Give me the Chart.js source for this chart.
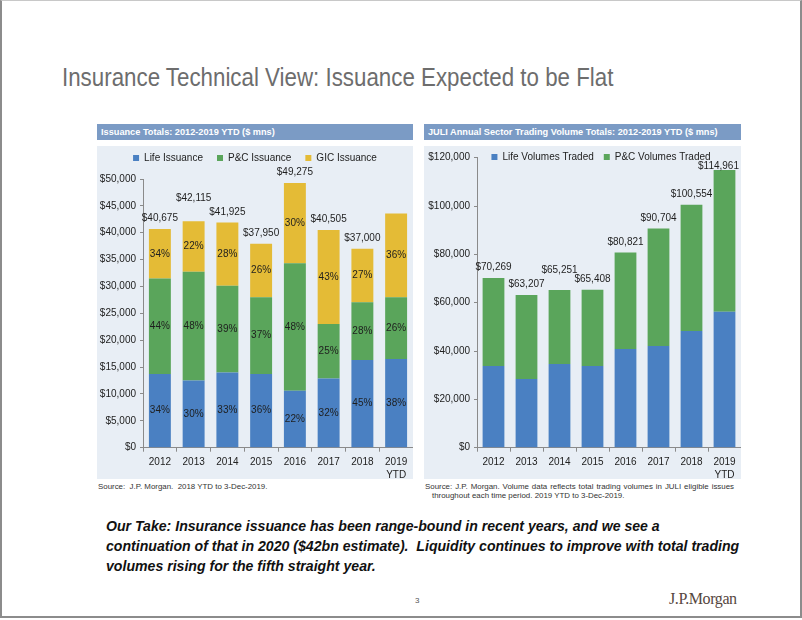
<!DOCTYPE html>
<html>
<head>
<meta charset="utf-8">
<script src="https://cdn.jsdelivr.net/npm/chart.js@4.4.1/dist/chart.umd.min.js"></script>
<style>
  html, body { margin: 0; padding: 0; background: #fff; }
  #slide { position: relative; width: 802px; height: 620px; overflow: hidden; font-family: 'Liberation Sans', Arial, sans-serif; }
  .frame { position: absolute; left: 0; top: 0; width: 798px; height: 615px; border-left: 2px solid #8c8c8c; border-right: 2px solid #8c8c8c; border-bottom: 2px solid #8c8c8c; border-top: 1px solid #c8c8c8; }
  .title { position: absolute; left: 62px; top: 62px; font-size: 25px; line-height: 30px; color: #6d6d6d; white-space: nowrap; transform: scaleX(0.893); transform-origin: 0 0; }
  .hdr { position: absolute; top: 124px; height: 16px; background: #7b9bc5; color: #fff; font-weight: bold; font-size: 9.2px; line-height: 16px; padding-left: 4px; white-space: nowrap; box-sizing: border-box; }
  canvas { position: absolute; top: 146px; background: #e8eef5; }
  .src { position: absolute; font-size: 7.9px; line-height: 9px; color: #333; white-space: nowrap; }
  .take { position: absolute; left: 106px; top: 516px; font-weight: bold; font-style: italic; font-size: 15.5px; line-height: 20px; color: #111; white-space: nowrap; transform: scaleX(0.91); transform-origin: 0 0; }
  .pg { position: absolute; left: 415px; top: 596px; font-size: 8px; color: #555; }
  .logo { position: absolute; left: 669px; top: 590px; font-family: 'Liberation Serif', 'DejaVu Serif', serif; font-size: 16px; color: #56463e; letter-spacing: -0.4px; }
</style>
</head>
<body>
<div id="slide">
  <div class="frame"></div>
  <div class="title">Insurance Technical View: Issuance Expected to be Flat</div>

  <div class="hdr" style="left:97px; width:316px;">Issuance Totals: 2012-2019 YTD ($ mns)</div>
  <div class="hdr" style="left:424px; width:317px;">JULI Annual Sector Trading Volume Totals: 2012-2019 YTD ($ mns)</div>

  <canvas id="c1" width="316" height="333" style="left:97px;"></canvas>
  <canvas id="c2" width="317" height="333" style="left:424px;"></canvas>

  <div class="src" style="left:98px; top:482px;">Source:&nbsp; J.P. Morgan.&nbsp; 2018 YTD to 3-Dec-2019.</div>
  <div class="src" style="left:425px; top:482px; width:309px; text-align:justify; text-align-last:justify; white-space:normal;">Source: J.P. Morgan. Volume data reflects total trading volumes in JULI eligible issues</div>
  <div class="src" style="left:432px; top:491px;">throughout each time period. 2019 YTD to 3-Dec-2019.</div>

  <div class="take">Our Take: Insurance issuance has been range-bound in recent years, and we see a<br>continuation of that in 2020 ($42bn estimate).&nbsp; Liquidity continues to improve with total trading<br>volumes rising for the fifth straight year.</div>
  <div class="pg">3</div>
  <div class="logo">J.P.Morgan</div>
</div>

<script>
// ---------------- Data ----------------
const categories = ['2012', '2013', '2014', '2015', '2016', '2017', '2018', ['2019', 'YTD']];

// Left chart: Issuance ($ mns)
const lifeIssuance = [13700, 12500, 14000, 13700, 10600, 12900, 16300, 16500];
const pcIssuance   = [17800, 20250, 16150, 14300, 23700, 10100, 10750, 11500];
const gicIssuance  = [9175, 9365, 11775, 9950, 14975, 17505, 9950, 15600];
const lifePct = ['34%', '30%', '33%', '36%', '22%', '32%', '45%', '38%'];
const pcPct   = ['44%', '48%', '39%', '37%', '48%', '25%', '28%', '26%'];
const gicPct  = ['34%', '22%', '28%', '26%', '30%', '43%', '27%', '36%'];
const issuanceTotals = ['$40,675', '$42,115', '$41,925', '$37,950', '$49,275', '$40,505', '$37,000', ''];

// Right chart: Trading volumes ($ mns)
const lifeVolumes = [33800, 28400, 34600, 33800, 40800, 42100, 48300, 56300];
const pcVolumes   = [36469, 34807, 30651, 31608, 40021, 48604, 52254, 58661];
const volumeTotals = ['$70,269', '$63,207', '$65,251', '$65,408', '$80,821', '$90,704', '$100,554', '$114,961'];

// ---------------- Styling ----------------
const BLUE = '#4a80c2';
const GREEN = '#5aa55b';
const GOLD = '#e4bb36';
const AXIS = '#8a8a8a';

Chart.defaults.font.family = "'Liberation Sans', Arial, sans-serif";
Chart.defaults.font.size = 10;
Chart.defaults.color = '#222';

function money(v) { return '$' + Number(v).toLocaleString('en-US'); }

function barLabels(cfg) {
  return {
    id: 'barLabels',
    afterDatasetsDraw(chart) {
      const ctx = chart.ctx;
      ctx.save();
      ctx.font = "10px 'Liberation Sans', Arial, sans-serif";
      ctx.fillStyle = '#1e1e1e';
      ctx.textAlign = 'center';
      ctx.textBaseline = 'middle';
      (cfg.inner || []).forEach((labels, di) => {
        if (!labels) return;
        chart.getDatasetMeta(di).data.forEach((bar, i) => {
          const p = bar.getProps(['x', 'y', 'base'], true);
          if (labels[i]) ctx.fillText(labels[i], p.x, (p.y + p.base) / 2);
        });
      });
      if (cfg.totals) {
        const meta = chart.getDatasetMeta(chart.data.datasets.length - 1);
        meta.data.forEach((bar, i) => {
          const p = bar.getProps(['x', 'y'], true);
          const lift = (cfg.lift && cfg.lift[i]) || 0;
          const dx = (cfg.dx && cfg.dx[i]) || 0;
          if (cfg.totals[i]) ctx.fillText(cfg.totals[i], p.x + dx, p.y - cfg.gap - lift);
        });
      }
      ctx.restore();
    }
  };
}

// Fix the legend's layout height, and let it draw unclipped with a small offset.
function legendFix(h, dy, shift) {
  return {
    id: 'legendFix',
    beforeLayout(chart) {
      const lg = chart.legend;
      if (lg && !lg._fixed) {
        const f = lg.fit;
        lg.fit = function () {
          f.call(this);
          this.height = h;
          if (this.lineWidths && this.lineWidths.length) this.lineWidths[0] += 2 * shift;
        };
        lg.draw = function () {
          if (!this.options.display) return;
          const ctx = this.ctx;
          ctx.save();
          ctx.translate(0, dy);
          this._draw();
          ctx.restore();
        };
        lg._fixed = true;
      }
    }
  };
}

function axes(max, step, yWidth) {
  return {
    x: {
      stacked: true,
      border: { display: true, color: AXIS },
      grid: { display: true, drawOnChartArea: false, drawTicks: true, tickLength: 4, color: AXIS, offset: true },
      ticks: { padding: 4, color: '#222', font: { size: 10, lineHeight: 1.3 }, maxRotation: 0, autoSkip: false },
      afterFit(s) { s.height = 31.3; }
    },
    y: {
      stacked: true,
      min: 0, max: max,
      border: { display: true, color: AXIS },
      grid: { display: true, drawOnChartArea: false, drawTicks: true, tickLength: 3, color: AXIS },
      ticks: { stepSize: step, padding: 4, color: '#222', font: { size: 10 }, callback: v => money(v) },
      afterFit(s) { s.width = yWidth; }
    }
  };
}

function legendOpts(fullSize, pad) {
  return {
    display: true,
    position: 'top',
    fullSize: fullSize,
    labels: { boxWidth: 6, boxHeight: 6, padding: pad, color: '#222', font: { size: 10 } }
  };
}

// Left chart
new Chart(document.getElementById('c1'), {
  type: 'bar',
  data: {
    labels: categories,
    datasets: [
      { label: 'Life Issuance', data: lifeIssuance, backgroundColor: BLUE },
      { label: 'P&C Issuance', data: pcIssuance, backgroundColor: GREEN },
      { label: 'GIC Issuance', data: gicIssuance, backgroundColor: GOLD }
    ]
  },
  options: {
    responsive: false,
    animation: false,
    datasets: { bar: { categoryPercentage: 1, barPercentage: 0.65 } },
    layout: { padding: 0 },
    plugins: { legend: legendOpts(true, 14), tooltip: { enabled: false } },
    scales: axes(50000, 5000, 46)
  },
  plugins: [
    legendFix(33, -7, 0),
    barLabels({ inner: [lifePct, pcPct, gicPct], totals: issuanceTotals, gap: 10.5, lift: [0, 12.5, 0, 0, 0, 0, 0, 0] })
  ]
});

// Right chart
new Chart(document.getElementById('c2'), {
  type: 'bar',
  data: {
    labels: categories,
    datasets: [
      { label: 'Life Volumes Traded', data: lifeVolumes, backgroundColor: BLUE },
      { label: 'P&C Volumes Traded', data: pcVolumes, backgroundColor: GREEN }
    ]
  },
  options: {
    responsive: false,
    animation: false,
    datasets: { bar: { categoryPercentage: 1, barPercentage: 0.66 } },
    layout: { padding: 0 },
    plugins: { legend: legendOpts(false, 10), tooltip: { enabled: false } },
    scales: axes(120000, 20000, 53)
  },
  plugins: [
    legendFix(11.7, -4, 8),
    barLabels({ totals: volumeTotals, gap: 10.5, lift: [0, 0, 9, 0, 0, 0, 0, -6.5], dx: [0, 0, 0, 0, 0, 0, 0, -6] })
  ]
});
</script>
</body>
</html>
